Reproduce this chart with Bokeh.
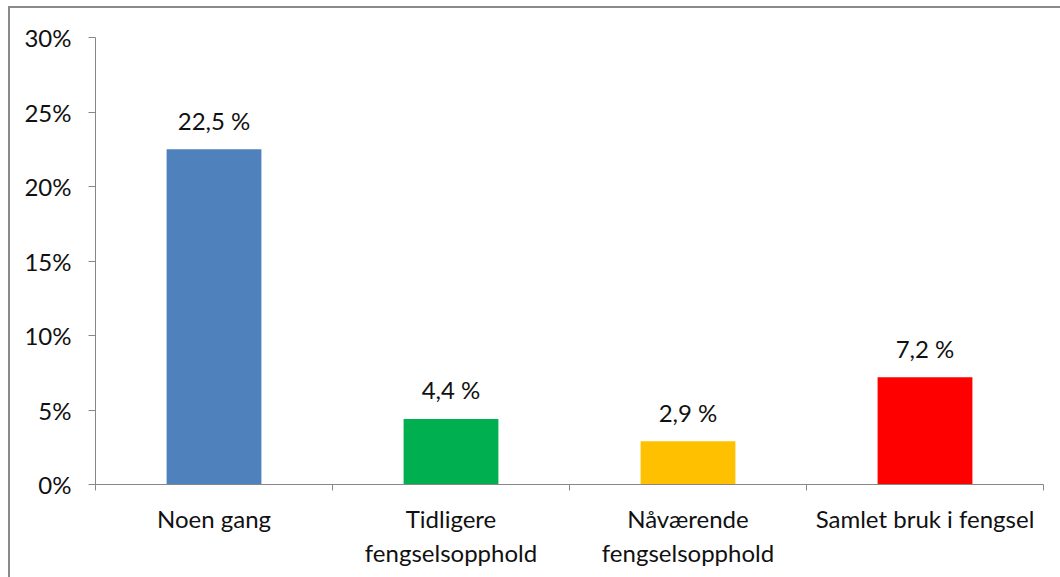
from bokeh.plotting import figure
from bokeh.models import ColumnDataSource, Range1d, LinearAxis, FixedTicker, CategoricalAxis
from bokeh.core.properties import value
from bokeh.embed import file_html
from bokeh.resources import INLINE

categories = ["Noen gang", "Tidligere\nfengselsopphold", "Nåværende\nfengselsopphold", "Samlet bruk i fengsel"]
values = [22.5, 4.4, 2.9, 7.2]
labels = ["22,5 %", "4,4 %", "2,9 %", "7,2 %"]
colors = ["#4F81BD", "#00B050", "#FFC000", "#FF0000"]
y_ticks = [0, 5, 10, 15, 20, 25, 30]
y_tick_labels = {0: "0%", 5: "5%", 10: "10%", 15: "15%", 20: "20%", 25: "25%", 30: "30%"}

FONT = "Lato"
FS = "24px"
GRAY = "#878787"
TXT = "#111111"

src = ColumnDataSource(dict(cat=categories, val=values, lab=labels, col=colors))

p = figure(x_range=categories, y_range=Range1d(0, 30), width=1052, height=571,
           output_backend="svg", toolbar_location=None, x_axis_location=None,
           min_border_left=85, min_border_top=29, min_border_right=19, min_border_bottom=95)
p.margin = (6, 0, 0, 8)
p.styles = {"border-left": "2px solid #8a8a8a", "border-top": "2px solid #8a8a8a"}
p.outline_line_color = None
p.grid.grid_line_color = None
p.background_fill_color = "white"
p.border_fill_color = "white"

p.vbar(x="cat", top="val", width=0.4, fill_color="col", line_color=None, source=src)
p.text(x="cat", y="val", text="lab", source=src, text_align="center", text_baseline="alphabetic",
       y_offset=-29, text_font=value(FONT), text_font_size=FS, text_color=TXT)

# y axis
ya = p.yaxis[0]
ya.ticker = FixedTicker(ticks=y_ticks)
ya.major_label_overrides = y_tick_labels
ya.minor_tick_line_color = None
ya.major_tick_in = 0
ya.major_tick_out = 7
ya.major_tick_line_color = GRAY
ya.axis_line_color = GRAY
ya.major_label_standoff = 17
ya.major_label_text_font = FONT
ya.major_label_text_font_size = FS
ya.major_label_text_color = TXT

# x axis: ticks at category boundaries (synthetic coordinates), labels from a categorical axis
bounds = list(range(len(categories) + 1))
tick_axis = LinearAxis(ticker=FixedTicker(ticks=bounds))
tick_axis.major_label_overrides = {b: "" for b in bounds}
tick_axis.major_label_text_font_size = "1px"
tick_axis.major_label_standoff = 0
tick_axis.major_tick_in = 0
tick_axis.major_tick_out = 6
tick_axis.minor_tick_line_color = None
tick_axis.major_tick_line_color = GRAY
tick_axis.axis_line_color = GRAY
p.add_layout(tick_axis, "below")

xa = CategoricalAxis()
xa.axis_line_color = None
xa.major_tick_line_color = None
xa.minor_tick_line_color = None
xa.major_label_standoff = 7
xa.major_label_text_font = FONT
xa.major_label_text_font_size = FS
xa.major_label_text_color = TXT
xa.major_label_orientation = "horizontal"
p.add_layout(xa, "below")

open("out.html", "w").write(file_html(p, INLINE))
